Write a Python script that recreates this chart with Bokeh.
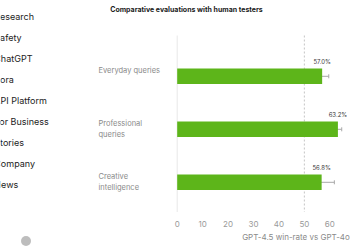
from bokeh.plotting import figure
from bokeh.layouts import column
from bokeh.models import (ColumnDataSource, Range1d, FixedTicker, Whisker, TeeHead)
from bokeh.core.properties import value
from bokeh.embed import file_html
from bokeh.resources import INLINE

# ---- data ----
categories = ["Everyday queries", "Professional\nqueries", "Creative\nintelligence"]
win_rates = [57.0, 63.2, 56.8]
err_low = [2.6, 1.5, 5.0]
err_high = [2.6, 1.5, 5.0]
value_labels = ["57.0%", "63.2%", "56.8%"]
x_ticks = [0, 10, 20, 30, 40, 50, 60]
x_axis_title = "GPT-4.5 win-rate vs GPT-4o"
chart_title = "Comparative evaluations with human testers"
menu_items = ["Research", "Safety", "ChatGPT", "Sora", "API Platform",
              "For Business", "Stories", "Company", "News"]

FONT = "Inter"

# ---- geometry (pixel layout -> data ranges) ----
W, H = 350, 250
frame_h = 212
bottom_frame_top = 232
px_per_unit = 2.543
zero_px = 176.7
x_start = -zero_px / px_per_unit
x_end = (W - zero_px) / px_per_unit
row_px = 53.0
first_center = 75.8
y_top = -first_center / row_px
y_bot = (frame_h - first_center) / row_px


def px_x(px):
    return (px - zero_px) / px_per_unit


def px_y(py):
    return (py - first_center) / row_px


xr = Range1d(x_start, x_end)

# ---- main chart (with sidebar) ----
p = figure(width=W, height=frame_h, output_backend="svg", toolbar_location=None,
           x_range=xr, y_range=Range1d(y_bot, y_top),
           x_axis_location=None, y_axis_location=None, min_border=0,
           outline_line_color=None)
p.grid.visible = False

menu_y = [px_y(16 + 21 * i) for i in range(len(menu_items))]
p.text(x=[px_x(-6.2)] * len(menu_items), y=menu_y, text=menu_items,
       text_font=value(FONT), text_font_size="9px", text_color="#1c1c1c",
       text_baseline="middle", text_align="left")

ys = list(range(len(categories)))
src = ColumnDataSource(dict(y=ys, v=win_rates,
                            lo=[v - e for v, e in zip(win_rates, err_low)],
                            hi=[v + e for v, e in zip(win_rates, err_high)],
                            lab=value_labels, cat=categories))

line_top = px_y(35)
p.segment(x0=[0], x1=[0], y0=[line_top], y1=[y_bot], line_color="#e8e8e8", line_width=1)
p.segment(x0=[50], x1=[50], y0=[line_top], y1=[y_bot], line_color="#c4c4c4",
          line_width=1, line_dash="2 2")

bar_h = 15.5 / row_px
p.hbar(y="y", left=0, right="v", height=bar_h, source=src, color="#5db51a", line_color=None)

w = Whisker(base="y", lower="lo", upper="hi", dimension="width", source=src,
            line_color="#a8a8a8", line_width=1,
            lower_head=TeeHead(size=4, line_color="#a8a8a8", line_width=1),
            upper_head=TeeHead(size=4, line_color="#a8a8a8", line_width=1))
p.add_layout(w)

p.text(x="v", y="y", text="lab", source=src, y_offset=-11,
       text_font=value(FONT), text_font_size="6px", text_color="#3a3a3a",
       text_align="center", text_baseline="bottom")

p.text(x=px_x(98), y="y", text="cat", source=src, y_offset=-10,
       text_font=value(FONT), text_font_size="7.5px", text_color="#8a8a8a",
       text_align="left", text_baseline="top", text_line_height=1.15)

p.text(x=[px_x(186)], y=[px_y(9)], text=[chart_title],
       text_font=value(FONT), text_font_size="7px", text_font_style="bold",
       text_color="#1a1a1a", text_align="center", text_baseline="middle")

# ---- bottom strip: x axis tick labels, axis title, sidebar button ----
b = figure(width=W, height=H - frame_h, output_backend="svg", toolbar_location=None,
           x_range=xr, y_range=Range1d(H, bottom_frame_top),
           x_axis_location="above", y_axis_location=None,
           min_border_left=0, min_border_right=0, min_border_bottom=0,
           min_border_top=bottom_frame_top - frame_h, outline_line_color=None)
b.grid.visible = False

ax = b.xaxis[0]
ax.ticker = FixedTicker(ticks=x_ticks)
ax.axis_line_color = None
ax.major_tick_line_color = None
ax.minor_tick_line_color = None
ax.major_tick_out = 0
ax.major_tick_in = 0
ax.minor_tick_out = 0
ax.major_label_text_font = FONT
ax.major_label_text_font_size = "8px"
ax.major_label_text_color = "#9a9a9a"
ax.major_label_standoff = 6

b.text(x=[px_x(349.3)], y=[236], text=[x_axis_title],
       text_font=value(FONT), text_font_size="8px", text_color="#8a8a8a",
       text_align="right", text_baseline="middle")
b.scatter(x=[px_x(25.5)], y=[240.5], size=10, color="#bdbdbd", line_color=None)

layout = column(p, b, spacing=0)
open("out.html", "w").write(file_html(layout, INLINE))
